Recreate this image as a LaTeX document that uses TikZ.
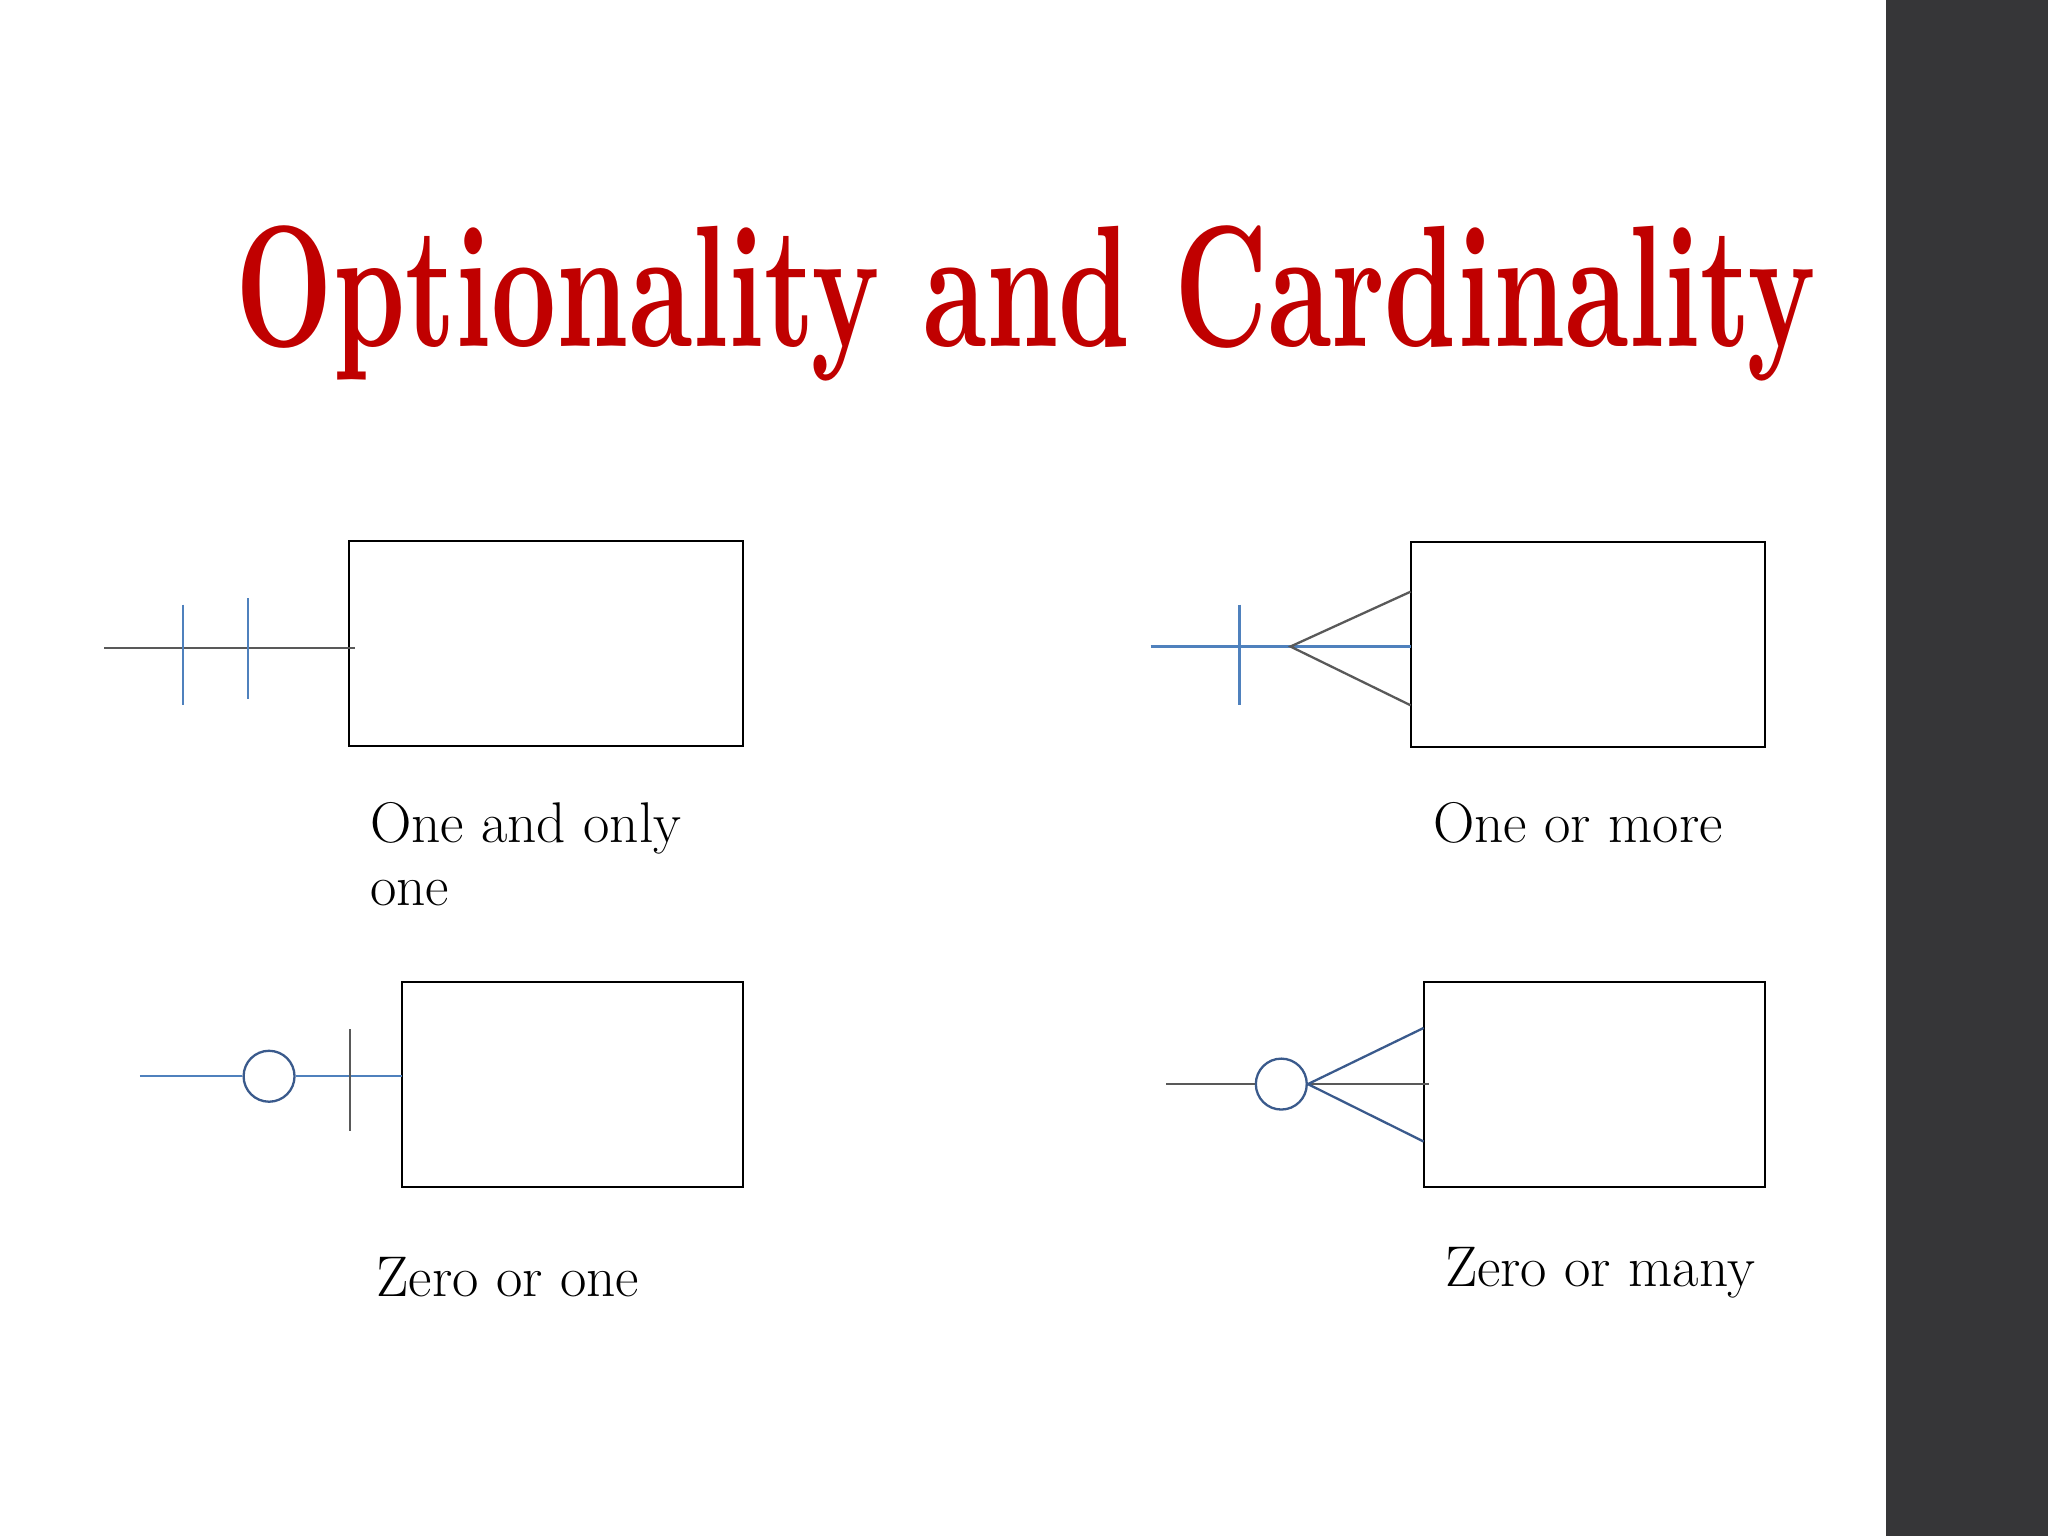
\documentclass[tikz,border=0pt]{standalone}
\usepackage{graphicx}
\definecolor{titlered}{HTML}{C00000}
\definecolor{lblue}{HTML}{4F81BD}
\definecolor{dblue}{HTML}{3A5A8C}
\definecolor{side}{HTML}{363638}
\begin{document}
\begin{tikzpicture}[x=0.02cm,y=-0.02cm,
  ent/.style={draw=black,line width=0.8pt},
  bl/.style={draw=lblue,line width=1pt},
  gl/.style={draw=black!65,line width=1pt},
  db/.style={draw=dblue,line width=1pt},
  lbl/.style={anchor=base west,font=\fontsize{25}{27.5}\selectfont,align=left,inner sep=0pt}]
\fill[white] (0,0) rectangle (1568,1176);
\useasboundingbox (0,0) rectangle (1568,1176);
\fill[side] (1444,0) rectangle (1568,1176);
\node[anchor=base west,inner sep=0pt,text=titlered] (title) at (180,265)
  {\resizebox{24.2cm}{1.85cm}{\bfseries Optionality and Cardinality}};
% box 1
\draw[ent] (267,414) rectangle (569,571);
\coordinate (a0) at (80,496); \coordinate (a1) at (272,496);
\draw[gl] (a0) -- (a1);
\draw[bl] (140,463) -- (140,540);
\draw[bl] (190,458) -- (190,535);
\node[lbl] (l1) at (283,693) {One and only\\one};
% box 2
\draw[ent] (1080,415) rectangle (1351,572);
\coordinate (b0) at (881,495); \coordinate (b1) at (1080,495); \coordinate (bc) at (988,495);
\draw[bl] (b0) -- (b1);
\draw[bl] (949,463) -- (949,540);
\draw[gl] (1080,453) -- (bc) -- (1080,540);
\node[lbl] (l2) at (1097,645) {One or more};
% box 3
\draw[ent] (308,752) rectangle (569,909);
\node[circle,draw=dblue,line width=1pt,minimum size=0.78cm,inner sep=0pt] (c3) at (206,824) {};
\coordinate (c0) at (107,824); \coordinate (c1) at (308,824);
\draw[bl] (c0) -- (c3.west);
\draw[bl] (c3.east) -- (c1);
\draw[gl] (268,788) -- (268,866);
\node[lbl] (l3) at (288,993) {Zero or one};
% box 4
\draw[ent] (1090,752) rectangle (1351,909);
\node[circle,draw=dblue,line width=1pt,minimum size=0.78cm,inner sep=0pt] (c4) at (981,830) {};
\coordinate (d0) at (893,830); \coordinate (d1) at (1094,830);
\draw[gl] (d0) -- (c4.west);
\draw[gl] (c4.east) -- (d1);
\draw[db] (1090,787) -- (c4.east) -- (1090,874);
\node[lbl] (l4) at (1106,985) {Zero or many};
\end{tikzpicture}
\end{document}
